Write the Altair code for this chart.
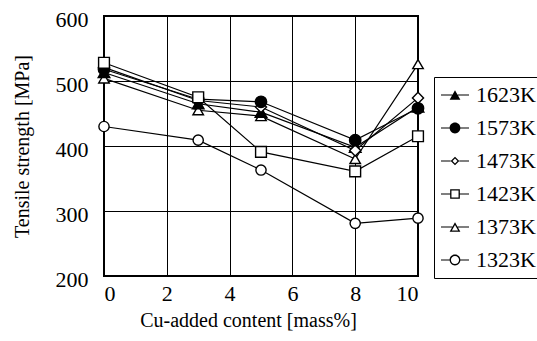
import altair as alt
import pandas as pd

# ---- data ----
cu = [0, 3, 5, 8, 10]
series = ["1623K", "1573K", "1473K", "1423K", "1373K", "1323K"]
t1623 = [513, 465, 452, 398, 460]
t1573 = [518, 472, 468, 409, 458]
t1473 = [521, 470, 460, 393, 474]
t1423 = [528, 475, 391, 361, 415]
t1373 = [504, 455, 446, 380, 526]
t1323 = [430, 409, 363, 281, 289]
values = {"1623K": t1623, "1573K": t1573, "1473K": t1473,
          "1423K": t1423, "1373K": t1373, "1323K": t1323}
draw_order = ["1323K", "1373K", "1623K", "1473K", "1573K", "1423K"]

x_ticks = [0, 2, 4, 6, 8, 10]
y_ticks = [200, 300, 400, 500, 600]

rows = []
for s in draw_order:
    for x, v in zip(cu, values[s]):
        rows.append({"cu": x, "ts": v, "temp": s})
df = pd.DataFrame(rows)

FONT = "Liberation Serif"

shape_plot = ["triangle-up", "circle", "diamond", "square", "triangle-up", "circle"]
fill_range = ["black", "black", "white", "white", "white", "white"]
size_range = [135, 105, 80, 125, 135, 125]


# legend glyphs: marker outline drawn as a filled ring plus two line stubs
def stubs(a):
    return f"M-2.6,-0.11H{-a}V0.11H-2.6Z M{a},-0.11H2.6V0.11H{a}Z"


tri_solid = "M0,-0.87L1,0.87L-1,0.87Z " + stubs(0.5)
tri_open = ("M0,-0.87L1,0.87L-1,0.87Z M0,-0.39L-0.58,0.63L0.58,0.63Z " + stubs(0.5))
circ_solid = "M-1,0A1,1,0,1,1,1,0A1,1,0,1,1,-1,0Z " + stubs(1)
circ_open = ("M-1,0A1,1,0,1,1,1,0A1,1,0,1,1,-1,0Z "
             "M-0.76,0A0.76,0.76,0,1,0,0.76,0A0.76,0.76,0,1,0,-0.76,0Z " + stubs(1))
diam_open = ("M0,-0.8L0.8,0L0,0.8L-0.8,0Z M0,-0.46L-0.46,0L0,0.46L0.46,0Z " + stubs(0.8))
sq_open = ("M-0.9,-0.9H0.9V0.9H-0.9Z M-0.66,-0.66V0.66H0.66V-0.66Z " + stubs(0.9))
shape_legend = [tri_solid, circ_solid, diam_open, sq_open, tri_open, circ_open]

x_enc = alt.X("cu:Q", scale=alt.Scale(domain=[0, 10], nice=False),
              axis=alt.Axis(values=x_ticks, title="Cu-added content [mass%]",
                            labelFontSize=22, titleFontSize=20, titleFontWeight="normal",
                            labelPadding=7, titlePadding=6, ticks=False, domain=False,
                            titleX=144,
                            grid=True, gridColor="black", gridWidth=1, gridOpacity=1,
                            labelFont=FONT, titleFont=FONT, labelColor="black", titleColor="black"))
y_enc = alt.Y("ts:Q", scale=alt.Scale(domain=[200, 600], nice=False),
              axis=alt.Axis(values=y_ticks, title="Tensile strength [MPa]",
                            labelFontSize=22, titleFontSize=20, titleFontWeight="normal",
                            labelPadding=16, titlePadding=23, ticks=False, domain=False,
                            labelOffset=3,
                            grid=True, gridColor="black", gridWidth=1, gridOpacity=1,
                            labelFont=FONT, titleFont=FONT, labelColor="black", titleColor="black"))

lines = alt.Chart(df).mark_line(color="black", strokeWidth=1.2).encode(
    x=x_enc, y=y_enc, detail="temp:N")

points = alt.Chart(df).mark_point(filled=True, stroke="black", strokeWidth=1.4, opacity=1).encode(
    x="cu:Q", y="ts:Q",
    shape=alt.Shape("temp:N", scale=alt.Scale(domain=series, range=shape_plot), legend=None),
    fill=alt.Fill("temp:N", scale=alt.Scale(domain=series, range=fill_range), legend=None),
    size=alt.Size("temp:N", scale=alt.Scale(domain=series, range=size_range), legend=None),
)

legend_layer = alt.Chart(df).transform_filter("datum.ts < 0").mark_point(
    filled=True, color="black", opacity=1, size=116).encode(
    x="cu:Q", y="ts:Q",
    shape=alt.Shape("temp:N", scale=alt.Scale(domain=series, range=shape_legend),
                    legend=alt.Legend(
                        title=None, orient="none", legendX=330, legendY=61,
                        strokeColor="black", padding=7,
                        labelFont=FONT, labelFontSize=22, labelColor="black",
                        symbolSize=116, symbolFillColor="black",
                        symbolStrokeColor="black", symbolStrokeWidth=0,
                        symbolOpacity=1,
                        symbolOffset=3, labelOffset=10, rowPadding=11,
                    )),
)

chart = alt.layer(lines, points, legend_layer).resolve_scale(
    shape="independent"
).properties(
    width=314, height=260,
    autosize=alt.AutoSizeParams(type="none"),
    padding={"left": 104, "top": 16, "right": 119, "bottom": 65},
).configure(background="white", font=FONT).configure_view(
    stroke="black", strokeWidth=2
).configure_axis(labelFont=FONT, titleFont=FONT).configure_legend(labelFont=FONT)

chart.save("out.html", embed_options={"renderer": "svg", "actions": False})
